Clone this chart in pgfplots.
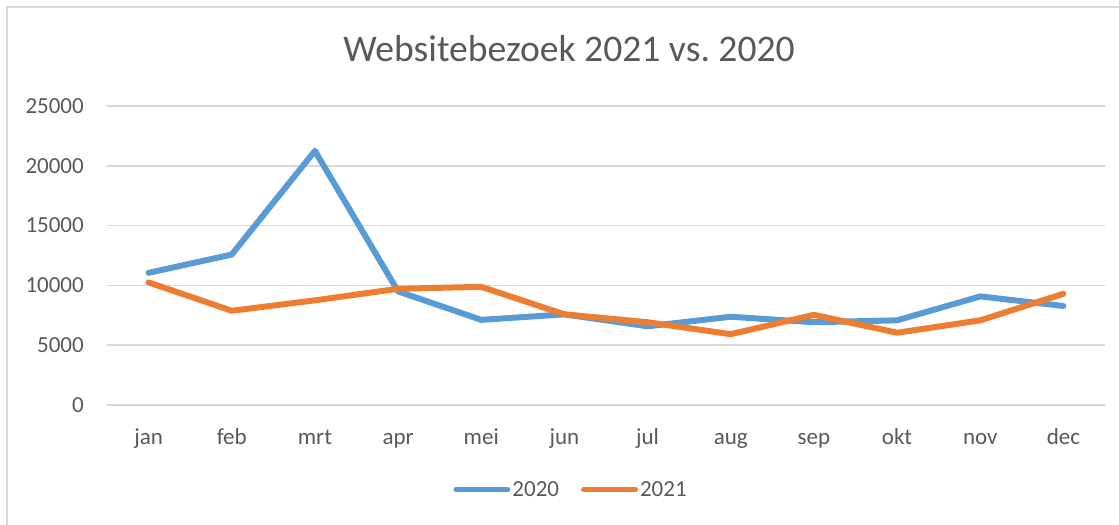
\documentclass[border=0pt]{standalone}
\usepackage{fontspec}
\setmainfont{Carlito}
\usepackage{pgfplots}
\pgfplotsset{compat=1.18}
\definecolor{blue20}{RGB}{91,155,213}
\definecolor{orange21}{RGB}{237,125,49}
\definecolor{txtgray}{RGB}{89,89,89}
\definecolor{gridgray}{RGB}{217,217,217}

\pgfplotstableread{
m   y2020  y2021
0   11050  10250
1   12580   7880
2   21250   8750
3    9500   9720
4    7120   9880
5    7580   7580
6    6580   6920
7    7380   5920
8    6920   7540
9    7080   6040
10   9080   7080
11   8280   9300
}\visits

\begin{document}
\begin{tikzpicture}
\useasboundingbox (0bp,0bp) rectangle (1119bp,-525bp);
\draw[gridgray, line width=2bp] (7bp,-7bp) rectangle (1140bp,-545bp);
\node[txtgray, font=\fontsize{37.6bp}{44bp}\selectfont, anchor=base] at (569bp,-61bp) {Websitebezoek 2021 vs.\ 2020};
\begin{axis}[
  at={(107bp,-405bp)}, anchor=south west,
  scale only axis, width=998bp, height=299bp,
  xmin=-0.5, xmax=11.5, ymin=0, ymax=25000,
  xtick={0,...,11},
  xticklabels={jan,feb,mrt,apr,mei,jun,jul,aug,sep,okt,nov,dec},
  ytick={0,5000,...,25000},
  /pgf/number format/assume math mode=true,
  scaled y ticks=false,
  yticklabel style={/pgf/number format/1000 sep={}},
  axis line style={draw=none},
  major tick length=0pt,
  ymajorgrids, grid style={gridgray, line width=1.5bp},
  tick label style={txtgray, font=\fontsize{23bp}{27bp}\selectfont, inner sep=0pt},
  xticklabel style={anchor=base, yshift=-39bp},
  yticklabel style={anchor=east, xshift=-23bp},
  legend columns=2,
  legend style={draw=none, fill=none, at={(0.465,-0.284)}, anchor=center,
    font=\fontsize{23bp}{27bp}\selectfont, text=txtgray,
    nodes={inner sep=2bp},
    /tikz/every even column/.append style={column sep=20bp}},
  legend image code/.code={\draw[#1, line width=5bp, line cap=round] (0bp,0bp) -- (52bp,0bp);},
  clip=false,
]
\addplot[blue20, line width=6bp, line cap=round, line join=round] table[x=m, y=y2020] {\visits};
\addplot[orange21, line width=6bp, line cap=round, line join=round] table[x=m, y=y2021] {\visits};
\legend{2020,2021}
\end{axis}
\end{tikzpicture}
\end{document}
